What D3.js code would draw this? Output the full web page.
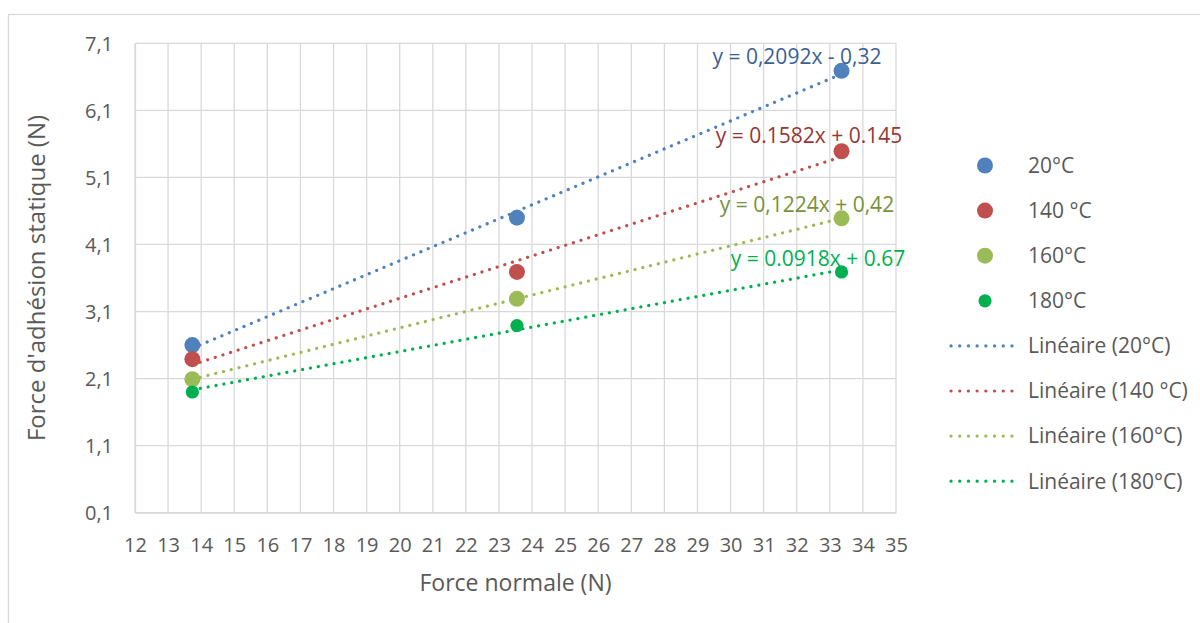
<!DOCTYPE html>
<html>
<head>
<meta charset="utf-8">
<script src="https://cdn.jsdelivr.net/npm/d3@7"></script>
<style>
  html, body { margin: 0; padding: 0; background: #ffffff; }
  svg { display: block; }
  text { font-family: "Open Sans", "Liberation Sans", sans-serif; fill: #595959; }
</style>
</head>
<body>
<svg id="chart" width="1200" height="623"></svg>
<script>
// ---- data ----
const normalForce = [13.734, 23.544, 33.354];
const seriesNames = ["20°C", "140 °C", "160°C", "180°C"];
const adhesion20 = [2.60, 4.50, 6.69];
const adhesion140 = [2.39, 3.69, 5.49];
const adhesion160 = [2.09, 3.29, 4.49];
const adhesion180 = [1.90, 2.89, 3.69];
const equations = ["y = 0,2092x - 0,32", "y = 0.1582x + 0.145", "y = 0,1224x + 0,42", "y = 0.0918x + 0.67"];
const xTicks = d3.range(12, 36, 1);
const yTicks = [0.1, 1.1, 2.1, 3.1, 4.1, 5.1, 6.1, 7.1];
const yTickLabels = ["0,1", "1,1", "2,1", "3,1", "4,1", "5,1", "6,1", "7,1"];

// ---- styles / layout ----
const colors = ["#4F81BD", "#C0504D", "#9BBB59", "#00B050"];
const eqColors = ["#3B6194", "#953735", "#76923C", "#00B050"];
const markerR = [8, 8, 8, 6.6];
const eqPos = [[797, 64], [809, 143], [807, 212], [818, 266]];

const svg = d3.select("#chart");
const plot = { left: 135, right: 896, top: 43.3, bottom: 512.7 };

svg.append("rect").attr("x", 8.5).attr("y", 14.5).attr("width", 1400).attr("height", 800)
  .attr("fill", "none").attr("stroke", "#D9D9D9").attr("stroke-width", 1.3);

const x = d3.scaleLinear().domain([12, 35]).range([plot.left, plot.right]);
const y = d3.scaleLinear().domain([0.1, 7.1]).range([plot.bottom, plot.top]);

// gridlines
const grid = svg.append("g");
grid.selectAll("line.v").data(xTicks).join("line")
  .attr("x1", d => x(d)).attr("x2", d => x(d))
  .attr("y1", plot.top).attr("y2", plot.bottom)
  .attr("stroke", "#D9D9D9").attr("stroke-width", 1.3);
grid.selectAll("line.h").data(yTicks).join("line")
  .attr("x1", plot.left).attr("x2", plot.right)
  .attr("y1", d => y(d)).attr("y2", d => y(d))
  .attr("stroke", "#D9D9D9").attr("stroke-width", 1.3);

// axes
const xAxis = d3.axisBottom(x).tickValues(xTicks).tickSize(0).tickPadding(0).tickFormat(d3.format("d"));
const gx = svg.append("g").attr("transform", `translate(0,${plot.bottom})`).call(xAxis);
gx.select(".domain").attr("stroke", "#D9D9D9").attr("stroke-width", 1.3);
gx.selectAll("text").attr("y", 39.5).attr("dy", 0).style("font-size", "20px").attr("fill", "#595959")
  .style("font-family", '"Open Sans", sans-serif');

const yAxis = d3.axisLeft(y).tickValues(yTicks).tickSize(0).tickPadding(0)
  .tickFormat((d, i) => yTickLabels[i]);
const gy = svg.append("g").attr("transform", `translate(${plot.left},0)`).call(yAxis);
gy.select(".domain").attr("stroke", "#D9D9D9").attr("stroke-width", 1.3);
gy.selectAll("text").attr("x", -22).attr("dy", "0.35em").style("font-size", "20px").attr("fill", "#595959")
  .style("font-family", '"Open Sans", sans-serif');

// axis titles
svg.append("text").attr("x", (plot.left + plot.right) / 2).attr("y", 591)
  .attr("text-anchor", "middle").style("font-size", "23px").text("Force normale (N)");
svg.append("text").attr("transform", `translate(45,${(plot.top + plot.bottom) / 2}) rotate(-90)`)
  .attr("text-anchor", "middle").style("font-size", "24px").text("Force d'adhésion statique (N)");

const allSeries = [adhesion20, adhesion140, adhesion160, adhesion180];

// trendlines (least squares on data)
allSeries.forEach((vals, i) => {
  const pts = normalForce.map((xv, j) => [xv, vals[j]]);
  const mx = d3.mean(pts, p => p[0]), my = d3.mean(pts, p => p[1]);
  const slope = d3.sum(pts, p => (p[0] - mx) * (p[1] - my)) / d3.sum(pts, p => (p[0] - mx) ** 2);
  const icpt = my - slope * mx;
  const x0 = d3.min(normalForce), x1 = d3.max(normalForce);
  const line = d3.line().x(d => x(d[0])).y(d => y(d[1]));
  svg.append("path").datum([[x0, slope * x0 + icpt], [x1, slope * x1 + icpt]])
    .attr("d", line).attr("fill", "none").attr("stroke", colors[i])
    .attr("stroke-width", 3.2).attr("stroke-linecap", "round").attr("stroke-dasharray", "0.1 7.9");
});

// points
allSeries.forEach((vals, i) => {
  svg.append("g").selectAll("circle").data(vals).join("circle")
    .attr("cx", (d, j) => x(normalForce[j])).attr("cy", d => y(d))
    .attr("r", markerR[i]).attr("fill", colors[i]);
});

// equations
equations.forEach((t, i) => {
  svg.append("text").attr("x", eqPos[i][0]).attr("y", eqPos[i][1])
    .attr("text-anchor", "middle").style("font-size", "21px").style("fill", eqColors[i]).text(t);
});

// legend
const legX = 985, legTextX = 1028, legY0 = 165.5, legStep = 45.1;
seriesNames.forEach((n, i) => {
  const yy = legY0 + i * legStep;
  svg.append("circle").attr("cx", legX).attr("cy", yy).attr("r", markerR[i]).attr("fill", colors[i]);
  svg.append("text").attr("x", legTextX).attr("y", yy).attr("dy", "0.35em").style("font-size", "21px").text(n);
});
seriesNames.forEach((n, i) => {
  const yy = legY0 + (i + 4) * legStep;
  svg.append("line").attr("x1", 951).attr("x2", 1020).attr("y1", yy).attr("y2", yy)
    .attr("stroke", colors[i]).attr("stroke-width", 3.2).attr("stroke-linecap", "round")
    .attr("stroke-dasharray", "0.1 8.6");
  svg.append("text").attr("x", legTextX).attr("y", yy).attr("dy", "0.35em").style("font-size", "21px")
    .text(`Linéaire (${n})`);
});
</script>
</body>
</html>
